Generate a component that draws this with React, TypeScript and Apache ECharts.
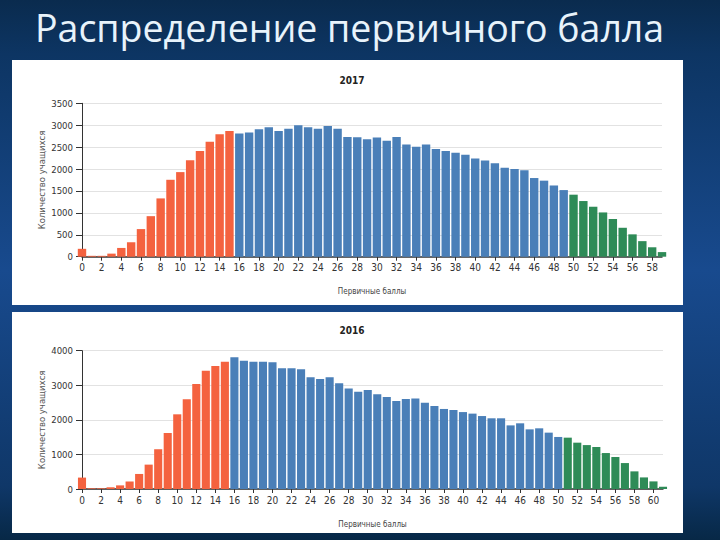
import React, { useEffect, useRef } from "react";
import * as echarts from "echarts";

// ---- data ----
const scores2017 = Array.from({ length: 60 }, (_, i) => i); // 0..59
const counts2017 = [
  180, 20, 20, 70, 200, 330, 630, 925, 1330, 1755,
  1930, 2200, 2410, 2620, 2795, 2870, 2810, 2835, 2910, 2955,
  2870, 2920, 3000, 2955, 2920, 2980, 2920, 2730, 2725, 2680,
  2720, 2645, 2730, 2560, 2510, 2560, 2455, 2410, 2370, 2325,
  2240, 2195, 2135, 2030, 2000, 1970, 1795, 1735, 1625, 1520,
  1415, 1270, 1140, 1010, 860, 660, 510, 355, 215, 105,
];
const scores2016 = Array.from({ length: 62 }, (_, i) => i); // 0..61
const counts2016 = [
  330, 20, 20, 50, 105, 220, 435, 705, 1150, 1620,
  2160, 2595, 3035, 3420, 3555, 3680, 3810, 3710, 3680, 3680,
  3665, 3490, 3490, 3460, 3230, 3180, 3230, 3055, 2910, 2815,
  2865, 2740, 2660, 2545, 2600, 2620, 2495, 2400, 2315, 2285,
  2225, 2180, 2110, 2045, 2045, 1840, 1900, 1725, 1755, 1630,
  1505, 1485, 1340, 1270, 1215, 1040, 925, 750, 510, 335,
  220, 65,
];
const redMax2017 = 15;
const greenMin2017 = 50;
const redMax2016 = 15;
const greenMin2016 = 51;

const slideTitle = "Распределение первичного балла";
const chartTitles = ["2017", "2016"];
const xName = "Первичные баллы";
const yName = "Количество учащихся";

const RED = "#f4623f";
const BLUE = "#4a7fb8";
const GREEN = "#2e8b57";

const LABEL_FONT = "'Liberation Sans Narrow', 'DejaVu Sans Condensed', 'Roboto Condensed', 'Liberation Sans', sans-serif";

function colored(scores: number[], counts: number[], redMax: number, greenMin: number) {
  return scores.map((s, i) => ({
    value: [s, counts[i]],
    itemStyle: { color: s <= redMax ? RED : s >= greenMin ? GREEN : BLUE },
  }));
}

export default function App() {
  const ref = useRef<HTMLDivElement>(null);
  useEffect(() => {
    if (!ref.current) return;
    const chart = echarts.init(ref.current, null, { renderer: "svg" });
    const yCommon = (gridIndex: number, max: number, interval: number) => ({
      gridIndex,
      type: "value" as const,
      min: 0,
      max,
      interval,
      axisLine: { show: true, lineStyle: { color: "#333", width: 1 } },
      axisTick: { show: true, length: 6, lineStyle: { color: "#333" } },
      axisLabel: {
        color: "#333",
        fontSize: 9.5,
        fontFamily: LABEL_FONT,
        margin: 9,
        formatter: (v: number) => String(v),
      },
      splitLine: { show: true, lineStyle: { color: "#e2e2e2" } },
      name: yName,
      nameLocation: "middle" as const,
      nameGap: 36,
      nameMoveOverlap: false,
      nameTextStyle: { color: "#555", fontSize: 8.5, fontFamily: "'DejaVu Sans', sans-serif" },
    });
    const xCommon = (gridIndex: number, max: number) => ({
      gridIndex,
      type: "value" as const,
      min: 0,
      max,
      interval: 2,
      axisLine: { show: true, onZero: false, lineStyle: { color: "#333", width: 1.5 } },
      axisTick: { show: true, length: 4, lineStyle: { color: "#333" } },
      axisLabel: {
        color: "#333",
        fontSize: 10,
        fontFamily: LABEL_FONT,
        margin: 6,
        formatter: (v: number) => String(v),
      },
      splitLine: { show: false },
      name: xName,
      nameLocation: "middle" as const,
      nameGap: 31,
      nameMoveOverlap: false,
      nameTextStyle: { color: "#444", fontSize: 8, fontFamily: LABEL_FONT },
    });
    chart.setOption({
      animation: false,
      backgroundColor: {
        type: "linear",
        x: 0, y: 0, x2: 0, y2: 1,
        colorStops: [
          { offset: 0, color: "#0a2b4e" },
          { offset: 0.1, color: "#0d3563" },
          { offset: 0.5, color: "#184a8e" },
          { offset: 0.9, color: "#0f3768" },
          { offset: 1, color: "#072846" },
        ],
      },
      graphic: [
        { type: "rect", z: -10, shape: { x: 12, y: 60, width: 671, height: 245 }, style: { fill: "#ffffff" } },
        { type: "rect", z: -10, shape: { x: 12, y: 312, width: 671, height: 221 }, style: { fill: "#ffffff" } },
        {
          type: "text",
          x: 35,
          y: 27,
          style: {
            text: slideTitle,
            fill: "#e8f3fb",
            font: "37.5px 'Open Sans', 'DejaVu Sans', sans-serif",
            verticalAlign: "middle",
            align: "left",
          },
        },
      ],
      title: [
        {
          text: chartTitles[0],
          left: 347,
          top: 70,
          textAlign: "center",
          textStyle: { fontSize: 10, fontWeight: "bold", color: "#222", fontFamily: LABEL_FONT },
        },
        {
          text: chartTitles[1],
          left: 347,
          top: 320,
          textAlign: "center",
          textStyle: { fontSize: 10, fontWeight: "bold", color: "#222", fontFamily: LABEL_FONT },
        },
      ],
      grid: [
        { left: 82, right: 58, top: 103.3, bottom: 283.3 },
        { left: 82, right: 57, top: 350.7, bottom: 51 },
      ],
      xAxis: [xCommon(0, 59), xCommon(1, 61)],
      yAxis: [yCommon(0, 3500, 500), yCommon(1, 4000, 1000)],
      series: [
        {
          type: "bar",
          xAxisIndex: 0,
          yAxisIndex: 0,
          barWidth: 8.4,
          clip: true,
          data: colored(scores2017, counts2017, redMax2017, greenMin2017),
        },
        {
          type: "bar",
          xAxisIndex: 1,
          yAxisIndex: 1,
          barWidth: 8.1,
          clip: true,
          data: colored(scores2016, counts2016, redMax2016, greenMin2016),
        },
      ],
    });
    return () => chart.dispose();
  }, []);
  return (
    <div
      ref={ref}
      style={{ position: "absolute", left: 0, top: 0, width: 720, height: 540 }}
    />
  );
}
